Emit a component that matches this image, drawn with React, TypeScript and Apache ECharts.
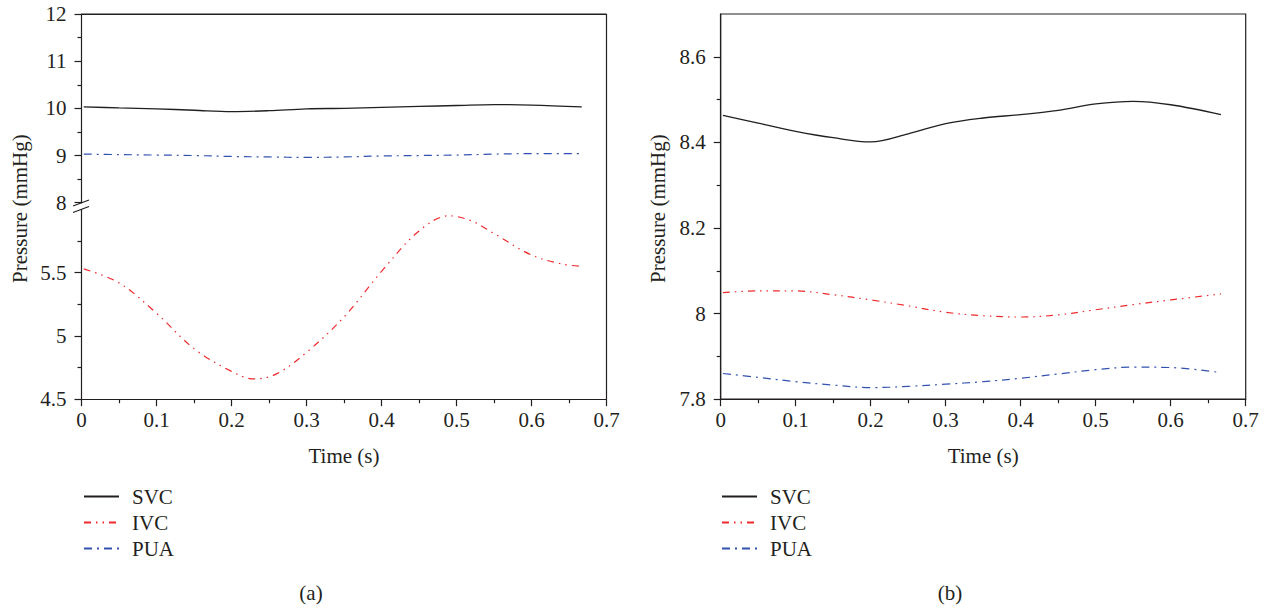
import React, { useEffect, useRef } from "react";
import * as echarts from "echarts";

// ---------- data ----------
const seriesNames = ["SVC", "IVC", "PUA"];
const timeT = [0.003, 0.05, 0.1, 0.15, 0.2, 0.25, 0.3, 0.35, 0.4, 0.45, 0.5, 0.55, 0.6, 0.667];
const timeIvcA = [0.003, 0.05, 0.1, 0.15, 0.2, 0.23, 0.26, 0.3, 0.35, 0.4, 0.45, 0.49, 0.52, 0.55, 0.6, 0.64, 0.667];

// panel (a)
const svcA = [10.03, 10.01, 9.99, 9.96, 9.93, 9.95, 9.99, 10.0, 10.02, 10.04, 10.06, 10.08, 10.07, 10.03];
const puaA = [9.03, 9.02, 9.01, 9.0, 8.98, 8.97, 8.96, 8.97, 8.99, 9.0, 9.01, 9.03, 9.04, 9.04];
const ivcA = [5.53, 5.42, 5.18, 4.9, 4.72, 4.66, 4.7, 4.87, 5.15, 5.51, 5.83, 5.95, 5.91, 5.81, 5.64, 5.57, 5.55];

// panel (b)
const svcB = [8.463, 8.445, 8.426, 8.411, 8.401, 8.42, 8.444, 8.457, 8.465, 8.475, 8.49, 8.496, 8.488, 8.465];
const ivcB = [8.049, 8.053, 8.053, 8.044, 8.032, 8.018, 8.003, 7.995, 7.992, 7.997, 8.009, 8.021, 8.032, 8.046];
const puaB = [7.86, 7.851, 7.841, 7.833, 7.827, 7.83, 7.835, 7.841, 7.849, 7.859, 7.869, 7.875, 7.874, 7.862];

const xTicks = [0, 0.1, 0.2, 0.3, 0.4, 0.5, 0.6, 0.7];
const yTicksAUpper = [8, 9, 10, 11, 12];
const yTicksALower = [4.5, 5, 5.5];
const yMinorALower = [4.75, 5.25, 5.75];
const yTicksB = [7.8, 8, 8.2, 8.4, 8.6];
const yMinorB = [7.9, 8.1, 8.3, 8.5];

const pair = (t: number[], v: number[]) => t.map((x, i) => [x, v[i]]);

// ---------- styles ----------
const FONT = "Liberation Serif";
const FS = 21;
const INK = "#231f20";
const RED = "#ef2a2e";
const BLUE = "#3352b0";
const DASH_RED = [7, 5, 1.5, 5, 1.5, 5];
const DASH_BLUE = [8, 5, 2, 5];

// layout
const AX_L = 81.5, AX_W = 525;
const BX_L = 720.7, BX_W = 525;
const TOP = 14, BOTTOM = 399.2;
const A_UP_BOTTOM = 202.7;
const A_LO_TOP = 209.5;

export default function App() {
  const ref = useRef<HTMLDivElement>(null);
  useEffect(() => {
    if (!ref.current) return;
    const chart = echarts.init(ref.current, undefined, { renderer: "svg" });

    const axisLine = { show: true, lineStyle: { color: INK, width: 1.2 } };
    const label = { color: INK, fontFamily: FONT, fontSize: FS };
    const xAxisBase = (gridIndex: number, show: boolean) => ({
      type: "value",
      gridIndex,
      min: 0,
      max: 0.7,
      interval: 0.1,
      axisLine: axisLine,
      axisTick: { show, length: 7, lineStyle: { color: INK, width: 1.2 } },
      minorTick: { show, splitNumber: 2, length: 4, lineStyle: { color: INK, width: 1.2 } },
      axisLabel: { show, ...label, margin: 10, customValues: xTicks },
      splitLine: { show: false },
      name: show ? "Time (s)" : "",
      nameLocation: "middle",
      nameGap: 46,
      nameTextStyle: { ...label },
    });

    const line = (name: string, xi: number, yi: number, data: number[][], color: string, type: any, width: number) => ({
      type: "line",
      name,
      xAxisIndex: xi,
      yAxisIndex: yi,
      data,
      smooth: 0.35,
      symbol: "none",
      showSymbol: false,
      lineStyle: { color, width, type },
      itemStyle: { color },
      silent: true,
    });

    const legend = (left: number) => ({
      orient: "vertical", left, top: 486, padding: 0,
      itemWidth: 35, itemHeight: 14, itemGap: 5,
      data: seriesNames, selectedMode: false,
      itemStyle: { opacity: 0 },
      textStyle: { ...label, padding: [0, 0, 0, 8] },
    });

    const option: any = {
      animation: false,
      backgroundColor: "#ffffff",
      textStyle: { fontFamily: FONT },
      grid: [
        { left: AX_L, width: AX_W, top: TOP, height: A_UP_BOTTOM - TOP },
        { left: AX_L, width: AX_W, top: A_LO_TOP, height: BOTTOM - A_LO_TOP },
        { left: BX_L, width: BX_W, top: TOP, height: BOTTOM - TOP, show: true, borderColor: INK, borderWidth: 1.2, backgroundColor: "transparent" },
      ],
      xAxis: [
        { ...xAxisBase(0, false), position: "top" },
        { ...xAxisBase(1, true), position: "bottom" },
        { ...xAxisBase(2, true), position: "bottom" },
      ],
      yAxis: [
        {
          type: "value", gridIndex: 0, min: 8, max: 12, interval: 1,
          axisLine,
          axisTick: { show: true, length: 7, lineStyle: { color: INK, width: 1.2 } },
          minorTick: { show: true, splitNumber: 2, length: 4, lineStyle: { color: INK, width: 1.2 } },
          axisLabel: { ...label, margin: 15, customValues: yTicksAUpper },
          splitLine: { show: false },
        },
        {
          type: "value", gridIndex: 1, min: 4.5, max: 6, interval: 0.5,
          axisLine,
          axisTick: { show: true, length: 7, customValues: yTicksALower, lineStyle: { color: INK, width: 1.2 } },
          axisLabel: { ...label, margin: 15, customValues: yTicksALower },
          splitLine: { show: false },
        },
        {
          type: "value", gridIndex: 1, min: 4.5, max: 6, interval: 0.5, position: "left",
          axisLine: { show: false },
          axisTick: { show: true, length: 4, customValues: yMinorALower, lineStyle: { color: INK, width: 1.2 } },
          axisLabel: { show: false },
          splitLine: { show: false },
        },
        {
          type: "value", gridIndex: 2, min: 7.8, max: 8.7, interval: 0.2,
          axisLine,
          axisTick: { show: true, length: 7, customValues: yTicksB, lineStyle: { color: INK, width: 1.2 } },
          axisLabel: { ...label, margin: 15, customValues: yTicksB },
          splitLine: { show: false },
        },
        {
          type: "value", gridIndex: 2, min: 7.8, max: 8.7, interval: 0.2, position: "left",
          axisLine: { show: false },
          axisTick: { show: true, length: 4, customValues: yMinorB, lineStyle: { color: INK, width: 1.2 } },
          axisLabel: { show: false },
          splitLine: { show: false },
        },
      ],
      legend: [legend(83), legend(721)],
      series: [
        line("SVC", 0, 0, pair(timeT, svcA), INK, "solid", 1.3),
        line("IVC", 1, 1, pair(timeIvcA, ivcA), RED, DASH_RED, 1.2),
        line("PUA", 0, 0, pair(timeT, puaA), BLUE, DASH_BLUE, 1.2),
        line("SVC", 2, 3, pair(timeT, svcB), INK, "solid", 1.3),
        line("IVC", 2, 3, pair(timeT, ivcB), RED, DASH_RED, 1.2),
        line("PUA", 2, 3, pair(timeT, puaB), BLUE, DASH_BLUE, 1.2),
      ],
      graphic: [
        // frame of panel (a)
        { type: "line", shape: { x1: AX_L, y1: TOP, x2: AX_L + AX_W, y2: TOP }, style: { stroke: INK, lineWidth: 1.2 }, silent: true },
        { type: "line", shape: { x1: AX_L + AX_W, y1: TOP, x2: AX_L + AX_W, y2: BOTTOM }, style: { stroke: INK, lineWidth: 1.2 }, silent: true },
        // axis break mark
        { type: "line", shape: { x1: AX_L - 8.5, y1: 206, x2: AX_L + 7.5, y2: 200 }, style: { stroke: INK, lineWidth: 1.2 }, silent: true },
        { type: "line", shape: { x1: AX_L - 8.5, y1: 212.5, x2: AX_L + 7.5, y2: 206.5 }, style: { stroke: INK, lineWidth: 1.2 }, silent: true },
        // y-axis titles
        {
          type: "text", x: 20, y: (TOP + BOTTOM) / 2 + 2, rotation: Math.PI / 2,
          style: { text: "Pressure (mmHg)", fill: INK, font: `${FS}px "${FONT}"`, textAlign: "center", textVerticalAlign: "middle" },
          silent: true,
        },
        {
          type: "text", x: 658, y: (TOP + BOTTOM) / 2 + 2, rotation: Math.PI / 2,
          style: { text: "Pressure (mmHg)", fill: INK, font: `${FS}px "${FONT}"`, textAlign: "center", textVerticalAlign: "middle" },
          silent: true,
        },
        // captions
        { type: "text", x: 311, y: 593, style: { text: "(a)", fill: INK, font: `${FS}px "${FONT}"`, textAlign: "center", textVerticalAlign: "middle" }, silent: true },
        { type: "text", x: 950, y: 593, style: { text: "(b)", fill: INK, font: `${FS}px "${FONT}"`, textAlign: "center", textVerticalAlign: "middle" }, silent: true },
      ],
    };

    chart.setOption(option);
    return () => chart.dispose();
  }, []);

  return (
    <div
      ref={ref}
      style={{ position: "fixed", left: 0, top: 0, width: "1271px", height: "609px", background: "#fff" }}
    />
  );
}
